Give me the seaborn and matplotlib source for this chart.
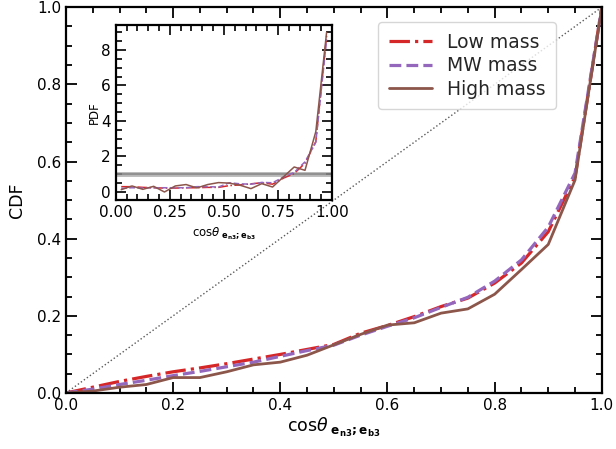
import numpy as np
import pandas as pd
import matplotlib
matplotlib.use("Agg")
import matplotlib.pyplot as plt
from matplotlib.ticker import MultipleLocator
import seaborn as sns

# CDF of cos(theta) between e_n3 and e_b3
cos_grid = np.round(np.arange(0, 1.0001, 0.05), 2)
cdf_low = [0, 0.015, 0.03, 0.043, 0.055, 0.065, 0.076, 0.088, 0.1, 0.113, 0.126,
           0.155, 0.175, 0.198, 0.224, 0.246, 0.285, 0.337, 0.418, 0.56, 1.0]
cdf_mw = [0, 0.01, 0.022, 0.033, 0.045, 0.056, 0.068, 0.08, 0.095, 0.11, 0.124,
          0.15, 0.173, 0.195, 0.222, 0.248, 0.29, 0.345, 0.43, 0.57, 1.0]
cdf_high = [0, 0.005, 0.015, 0.022, 0.04, 0.04, 0.055, 0.073, 0.08, 0.098, 0.125,
            0.152, 0.176, 0.182, 0.207, 0.218, 0.256, 0.32, 0.385, 0.552, 1.0]

# PDF (inset), bin centres
bin_centres = np.round(np.arange(0.025, 1.0, 0.05), 3)
pdf_low = [0.3, 0.3, 0.26, 0.24, 0.22, 0.22, 0.24, 0.24, 0.26, 0.26,
           0.36, 0.4, 0.46, 0.52, 0.44, 0.78, 1.04, 1.62, 2.84, 8.8]
pdf_mw = [0.2, 0.24, 0.22, 0.24, 0.24, 0.24, 0.24, 0.3, 0.3, 0.28,
          0.52, 0.46, 0.44, 0.54, 0.52, 0.84, 1.1, 1.7, 2.8, 8.6]
pdf_high = [0.13, 0.34, 0.15, 0.32, 0.0, 0.34, 0.42, 0.23, 0.42, 0.53,
            0.5, 0.38, 0.19, 0.47, 0.28, 0.85, 1.41, 1.22, 3.4, 9.0]

labels = ["Low mass", "MW mass", "High mass"]
colors = ["#d62728", "#9467bd", "#8c564b"]
styles = ["-.", "--", "-"]

sns.set_style("ticks")
plt.rcParams["font.family"] = ["DejaVu Sans"]
plt.rcParams["mathtext.fontset"] = "dejavusans"

xlab = r"$\mathrm{cos}\theta_{\ \mathbf{e_{n3};e_{b3}}}$"


def style_ticks(ax, length=8, minor_len=4.5, width=1.3, size=11):
    ax.tick_params(which="both", direction="in", top=True, right=True,
                   colors="black", labelcolor="black", labelsize=size)
    ax.tick_params(which="major", length=length, width=width)
    ax.tick_params(which="minor", length=minor_len, width=width)
    for s in ax.spines.values():
        s.set_linewidth(1.6)
        s.set_color("black")


fig = plt.figure(figsize=(6.16, 4.49), dpi=100)
ax = fig.add_axes([0.107, 0.1247, 0.870, 0.8593])

ax.plot([0, 1], [0, 1], ls=":", color="0.35", lw=1)
for cdf, lab, c, ls in zip([cdf_low, cdf_mw, cdf_high], labels, colors, styles):
    sns.lineplot(x=cos_grid, y=cdf, ax=ax, color=c, linestyle=ls,
                 lw=2.3 if ls != "-" else 2.0, label=lab)

ax.set_xlim(0, 1)
ax.set_ylim(0, 1)
ax.xaxis.set_major_locator(MultipleLocator(0.2))
ax.xaxis.set_minor_locator(MultipleLocator(0.05))
ax.yaxis.set_major_locator(MultipleLocator(0.2))
ax.yaxis.set_minor_locator(MultipleLocator(0.05))
style_ticks(ax)
ax.set_xlabel(xlab, fontsize=12.5, color="black", labelpad=2)
ax.set_ylabel("CDF", fontsize=12.5, color="black", labelpad=8)
leg = ax.legend(loc="upper right", fontsize=13.5, handlelength=2.3,
                bbox_to_anchor=(0.914, 0.961), borderaxespad=0, borderpad=0.55,
                labelspacing=0.25, handletextpad=0.8)
for t in leg.get_texts():
    t.set_color("0.15")

# inset PDF
ins = fig.add_axes([0.188, 0.5546, 0.351, 0.3894])
ins.set_facecolor("white")
ins.axhline(1.0, color="0.55", lw=3.5, alpha=0.6)
ins.axhline(1.0, color="0.5", lw=1.5, alpha=0.7)
for pdf, c, ls in zip([pdf_low, pdf_mw, pdf_high], colors, styles):
    sns.lineplot(x=bin_centres, y=pdf, ax=ins, color=c, linestyle=ls, lw=1.1)
ins.set_xlim(0, 1)
ins.set_ylim(-0.45, 9.4)
ins.xaxis.set_major_locator(MultipleLocator(0.25))
ins.xaxis.set_minor_locator(MultipleLocator(0.05))
ins.yaxis.set_major_locator(MultipleLocator(2))
ins.yaxis.set_minor_locator(MultipleLocator(0.5))
style_ticks(ins, length=7, minor_len=4, width=1.2, size=11)
ins.set_xlabel(xlab, fontsize=8.5, color="black", labelpad=4)
ins.set_ylabel("PDF", fontsize=8.5, color="black", labelpad=0)

fig.savefig("out.png", dpi=100)
